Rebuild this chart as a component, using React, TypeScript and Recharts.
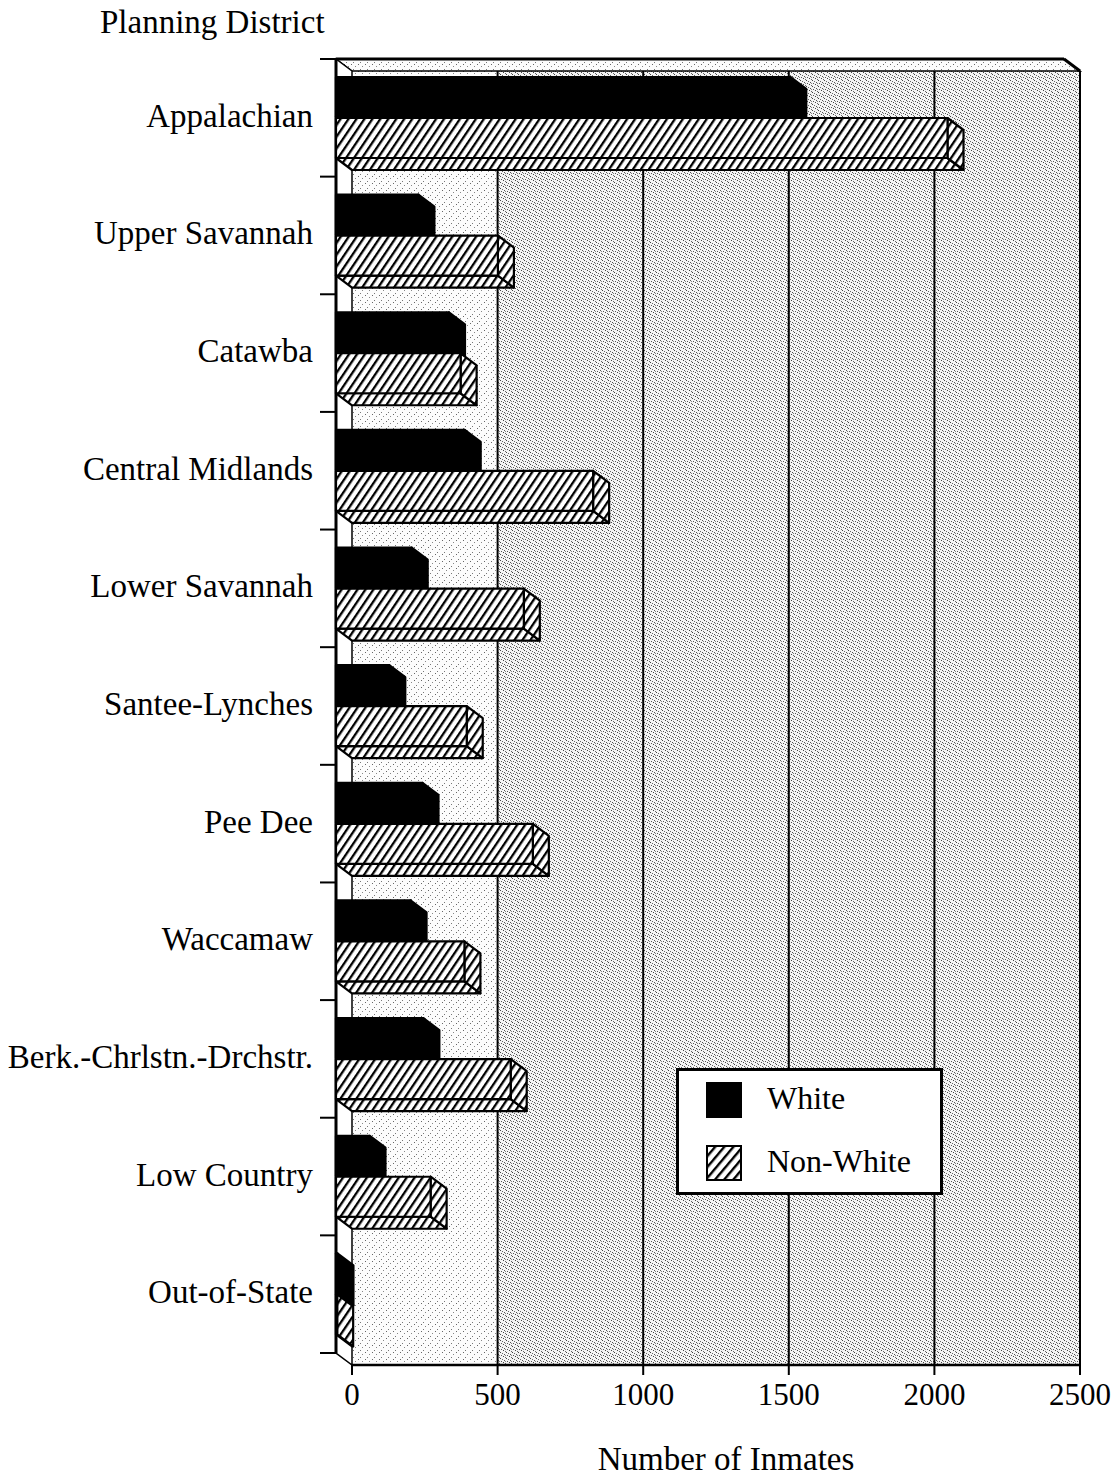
import React from 'react';
import { BarChart, Bar, XAxis, YAxis, ReferenceArea, Legend } from 'recharts';

const districts = [
  'Appalachian',
  'Upper Savannah',
  'Catawba',
  'Central Midlands',
  'Lower Savannah',
  'Santee-Lynches',
  'Pee Dee',
  'Waccamaw',
  'Berk.-Chrlstn.-Drchstr.',
  'Low Country',
  'Out-of-State',
];
const whiteInmates = [1560, 283, 388, 442, 260, 183, 297, 256, 300, 115, 5];
const nonWhiteInmates = [2100, 556, 428, 883, 645, 449, 676, 441, 600, 325, 4];
const xTicks = [0, 500, 1000, 1500, 2000, 2500];
const seriesNames = ['White', 'Non-White'];
const xTitle = 'Number of Inmates';
const yTitle = 'Planning District';

const data = districts.map((d, i) => ({
  district: d,
  white: whiteInmates[i],
  nonWhite: nonWhiteInmates[i],
}));

const W = 1119;
const H = 1475;
const MARGIN = { top: 63, right: 47, bottom: 0, left: 0 };
const Y_AXIS_W = 344;
const X_AXIS_H = 118;
const PLOT_H = H - MARGIN.top - X_AXIS_H;
const DX = 16;
const DY = 12;
const FONT = '"Liberation Serif", "Times New Roman", Times, serif';
const FS = 31;
const FS_TEXT = 33;

const Patterns = () => (
  <defs>
    <pattern id="hatch" patternUnits="userSpaceOnUse" width="6.6" height="20" patternTransform="rotate(34)">
      <rect x="0" y="0" width="6.6" height="20" fill="#fff" />
      <rect x="0" y="0" width="2.3" height="20" fill="#000" />
    </pattern>
    <pattern id="stippleLight" patternUnits="userSpaceOnUse" width="7" height="7">
      <rect x="0" y="0" width="7" height="7" fill="#fcfcfc" />
      <rect x="0" y="0" width="1" height="1" fill="#666" />
      <rect x="4" y="2" width="1" height="1" fill="#888" />
      <rect x="2" y="5" width="1" height="1" fill="#777" />
    </pattern>
    <pattern id="stippleDark" patternUnits="userSpaceOnUse" width="6" height="6">
      <rect x="0" y="0" width="6" height="6" fill="#f4f4f4" />
      <rect x="0" y="0" width="1" height="1" fill="#444" />
      <rect x="2" y="1" width="1" height="1" fill="#666" />
      <rect x="4" y="2" width="1" height="1" fill="#555" />
      <rect x="1" y="3" width="1" height="1" fill="#555" />
      <rect x="3" y="4" width="1" height="1" fill="#444" />
      <rect x="5" y="5" width="1" height="1" fill="#666" />
      <rect x="5" y="3" width="1" height="1" fill="#888" />
    </pattern>
  </defs>
);

const Scene = (props: any) => {
  const { x, y, width, height } = props;
  const maxV = xTicks[xTicks.length - 1];
  const px = (v: number) => x + (width * v) / maxV;
  const split = px(xTicks[1]);
  return (
    <g>
      <Patterns />
      <rect x={x} y={y} width={split - x} height={height} fill="url(#stippleLight)" />
      <rect x={split} y={y} width={x + width - split} height={height} fill="url(#stippleDark)" />
      {xTicks.slice(1).map((t) => (
        <line key={t} x1={px(t)} x2={px(t)} y1={y} y2={y + height} stroke="#000" strokeWidth={2} />
      ))}
      <polygon
        points={`${x - DX},${y - DY} ${x + width - DX},${y - DY} ${x + width},${y} ${x},${y}`}
        fill="url(#stippleLight)"
        stroke="#000"
        strokeWidth={1.5}
      />
      <line x1={x - DX} x2={x + width - DX} y1={y - DY} y2={y - DY} stroke="#000" strokeWidth={3} />
      <line x1={x + width - DX} x2={x + width} y1={y - DY} y2={y} stroke="#000" strokeWidth={3} />
      <polygon
        points={`${x - DX},${y - DY} ${x},${y} ${x},${y + height} ${x - DX},${y + height - DY}`}
        fill="#fff"
        stroke="#000"
        strokeWidth={1.5}
      />
      <line x1={x - DX} x2={x - DX} y1={y - DY} y2={y + height - DY} stroke="#000" strokeWidth={3} />
    </g>
  );
};

const Bar3D = (props: any) => {
  const { x, y, width, height, hatched } = props;
  if (x == null || y == null || !isFinite(width) || !isFinite(height)) return null;
  const fx = x - DX;
  const fy = y - DY;
  const fill = hatched ? 'url(#hatch)' : '#000';
  const common = { fill, stroke: '#000', strokeWidth: 2.2, strokeLinejoin: 'round' as const };
  return (
    <g>
      <polygon
        points={`${fx},${fy + height} ${fx + width},${fy + height} ${x + width},${y + height} ${x},${y + height}`}
        {...common}
      />
      <polygon
        points={`${fx + width},${fy} ${x + width},${y} ${x + width},${y + height} ${fx + width},${fy + height}`}
        {...common}
      />
      <rect x={fx} y={fy} width={Math.max(width, 0)} height={height} {...common} />
    </g>
  );
};

const YTick = (props: any) => {
  const { y, payload, index } = props;
  const band = PLOT_H / districts.length;
  const fy = y - DY;
  const isLast = index === districts.length - 1 || payload.value === districts[districts.length - 1];
  return (
    <g>
      <text
        x={305}
        y={fy - 2}
        textAnchor="end"
        dominantBaseline="central"
        fontSize={FS_TEXT}
        fontFamily={FONT}
        fill="#000"
      >
        {payload.value}
      </text>
      <line x1={312} x2={Y_AXIS_W - DX} y1={fy - band / 2} y2={fy - band / 2} stroke="#000" strokeWidth={2} />
      {isLast && (
        <line x1={312} x2={Y_AXIS_W - DX} y1={fy + band / 2} y2={fy + band / 2} stroke="#000" strokeWidth={2} />
      )}
    </g>
  );
};

const LegendBox = () => (
  <div
    style={{
      width: 267,
      height: 127,
      boxSizing: 'border-box',
      border: '3px solid #000',
      background: '#fff',
      position: 'relative',
      fontFamily: FONT,
      fontSize: 32,
      color: '#000',
    }}
  >
    <div style={{ position: 'absolute', left: 27, top: 11, width: 36, height: 36, background: '#000' }} />
    <div style={{ position: 'absolute', left: 88, top: 27, transform: 'translateY(-50%)', lineHeight: 1, whiteSpace: 'nowrap' }}>
      {seriesNames[0]}
    </div>
    <svg style={{ position: 'absolute', left: 27, top: 74 }} width={36} height={36}>
      <defs>
        <pattern id="hatchLegend" patternUnits="userSpaceOnUse" width="7" height="20" patternTransform="rotate(40)">
          <rect x="0" y="0" width="7" height="20" fill="#fff" />
          <rect x="0" y="0" width="2.4" height="20" fill="#000" />
        </pattern>
      </defs>
      <rect x={1} y={1} width={34} height={34} fill="url(#hatchLegend)" stroke="#000" strokeWidth={2} />
    </svg>
    <div style={{ position: 'absolute', left: 88, top: 90, transform: 'translateY(-50%)', lineHeight: 1, whiteSpace: 'nowrap' }}>
      {seriesNames[1]}
    </div>
  </div>
);

export default function App() {
  return (
    <BarChart
      width={W}
      height={H}
      data={data}
      layout="vertical"
      margin={MARGIN}
      barGap={1}
      style={{ fontFamily: FONT }}
    >
      <ReferenceArea x1={0} x2={xTicks[xTicks.length - 1]} shape={<Scene />} zIndex={50} ifOverflow="visible" />
      <XAxis
        type="number"
        domain={[0, xTicks[xTicks.length - 1]]}
        ticks={xTicks}
        interval={0}
        height={X_AXIS_H}
        tickSize={10}
        tickMargin={8}
        stroke="#000"
        axisLine={{ stroke: '#000', strokeWidth: 2.5 }}
        tickLine={{ stroke: '#000', strokeWidth: 2 }}
        tick={{ fontSize: FS, fill: '#000', fontFamily: FONT }}
        label={{
          content: () => (
            <text x={718} y={1451} textAnchor="middle" dominantBaseline="central" fontSize={FS_TEXT} fontFamily={FONT} fill="#000">
              {xTitle}
            </text>
          ),
        }}
      />
      <YAxis
        type="category"
        dataKey="district"
        width={Y_AXIS_W}
        axisLine={false}
        tickLine={false}
        interval={0}
        tick={<YTick />}
        label={{
          content: () => (
            <text x={92} y={25} fontSize={FS_TEXT} fontFamily={FONT} fill="#000">
              {yTitle}
            </text>
          ),
        }}
      />
      <Legend
        layout="horizontal"
        verticalAlign="middle"
        align="center"
        wrapperStyle={{ left: 668, top: 1060, width: 267, height: 127 }}
        content={<LegendBox />}
      />
      <Bar
        dataKey="white"
        name={seriesNames[0]}
        fill="#000"
        barSize={40}
        isAnimationActive={false}
        shape={(p: any) => <Bar3D {...p} hatched={false} />}
      />
      <Bar
        dataKey="nonWhite"
        name={seriesNames[1]}
        fill="#fff"
        barSize={40}
        isAnimationActive={false}
        shape={(p: any) => <Bar3D {...p} hatched />}
      />
    </BarChart>
  );
}
